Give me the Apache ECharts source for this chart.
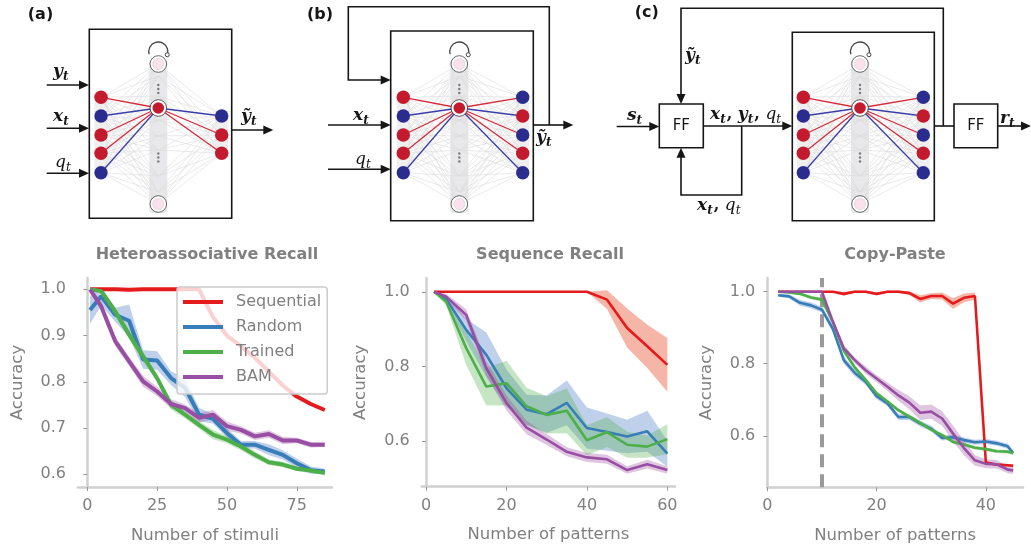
<!DOCTYPE html>
<html>
<head>
<meta charset="utf-8">
<script src="https://cdn.jsdelivr.net/npm/echarts@6/dist/echarts.min.js"></script>
<style>
  html, body { margin: 0; padding: 0; background: #fff; }
  #chart { width: 1031px; height: 550px; }
</style>
</head>
<body>
<div id="chart"></div>
<script>
// ---- data ----
const seriesNames = ['Sequential', 'Random', 'Trained', 'BAM'];

// Heteroassociative Recall
const hetX = [1, 5, 10, 15, 20, 25, 30, 35, 40, 45, 50, 55, 60, 65, 70, 75, 80, 85];
const hetSeq = [1.0, 1.0, 1.0, 0.999, 1.0, 1.0, 1.0, 1.0, 1.0, 0.94, 0.90, 0.877, 0.852, 0.822, 0.792, 0.768, 0.752, 0.739];
const hetSeqErr = [0, 0, 0, 0.001, 0, 0, 0, 0, 0, 0.004, 0.004, 0.004, 0.004, 0.004, 0.004, 0.003, 0.003, 0.003];
const hetRandom = [0.955, 0.985, 0.945, 0.932, 0.848, 0.846, 0.808, 0.787, 0.729, 0.72, 0.689, 0.664, 0.664, 0.653, 0.642, 0.624, 0.609, 0.606];
const hetRandomErr = [0.03, 0.02, 0.015, 0.035, 0.02, 0.02, 0.015, 0.02, 0.015, 0.01, 0.01, 0.008, 0.008, 0.012, 0.01, 0.01, 0.008, 0.006];
const hetTrained = [1.0, 0.996, 0.952, 0.902, 0.855, 0.808, 0.75, 0.729, 0.707, 0.686, 0.675, 0.66, 0.642, 0.626, 0.621, 0.612, 0.608, 0.603];
const hetTrainedErr = [0.003, 0.005, 0.01, 0.01, 0.01, 0.008, 0.01, 0.008, 0.008, 0.01, 0.008, 0.008, 0.008, 0.006, 0.006, 0.005, 0.005, 0.005];
const hetBAM = [1.0, 0.963, 0.888, 0.844, 0.801, 0.779, 0.752, 0.743, 0.722, 0.729, 0.704, 0.696, 0.682, 0.687, 0.673, 0.673, 0.664, 0.664];
const hetBAMErr = [0.003, 0.01, 0.01, 0.01, 0.012, 0.01, 0.01, 0.008, 0.01, 0.01, 0.01, 0.008, 0.008, 0.008, 0.008, 0.006, 0.006, 0.005];

// Sequence Recall
const seqX = [2, 5, 10, 15, 20, 25, 30, 35, 40, 45, 50, 55, 60];
const seqSeq = [1, 1, 1, 1, 1, 1, 1, 1, 1, 0.979, 0.903, 0.854, 0.804];
const seqSeqErr = [0, 0, 0, 0, 0, 0, 0, 0, 0, 0.025, 0.052, 0.058, 0.072];
const seqRandom = [1.0, 0.981, 0.898, 0.831, 0.742, 0.684, 0.672, 0.702, 0.635, 0.624, 0.612, 0.626, 0.566];
const seqRandomErr = [0.002, 0.01, 0.03, 0.06, 0.05, 0.04, 0.05, 0.06, 0.055, 0.05, 0.045, 0.055, 0.035];
const seqTrained = [1.0, 0.974, 0.849, 0.746, 0.755, 0.693, 0.67, 0.681, 0.602, 0.624, 0.59, 0.585, 0.605];
const seqTrainedErr = [0.002, 0.01, 0.045, 0.05, 0.06, 0.05, 0.05, 0.06, 0.04, 0.04, 0.035, 0.03, 0.04];
const seqBAM = [1.0, 0.987, 0.938, 0.795, 0.702, 0.636, 0.604, 0.571, 0.556, 0.551, 0.522, 0.538, 0.522];
const seqBAMErr = [0.002, 0.008, 0.015, 0.02, 0.02, 0.018, 0.015, 0.012, 0.012, 0.012, 0.01, 0.012, 0.01];

// Copy-Paste
const cpX = [2, 4, 6, 8, 10, 12, 14, 16, 18, 20, 22, 24, 26, 28, 30, 32, 34, 36, 38, 40, 42, 44, 45];
const cpSeq = [1, 1, 1, 1, 1, 1, 0.994, 1, 1, 0.994, 1, 1, 0.996, 0.98, 0.988, 0.988, 0.967, 0.983, 0.988, 0.526, 0.52, 0.518, 0.517];
const cpSeqErr = [0, 0, 0, 0, 0, 0.002, 0.005, 0.003, 0.003, 0.004, 0.003, 0.003, 0.005, 0.01, 0.008, 0.01, 0.015, 0.012, 0.01, 0.004, 0.004, 0.004, 0.004];
const cpRandom = [0.99, 0.987, 0.969, 0.962, 0.95, 0.897, 0.81, 0.775, 0.75, 0.71, 0.69, 0.652, 0.652, 0.634, 0.62, 0.594, 0.596, 0.588, 0.582, 0.584, 0.579, 0.571, 0.552];
const cpRandomErr = [0.004, 0.005, 0.008, 0.008, 0.008, 0.01, 0.01, 0.01, 0.008, 0.008, 0.008, 0.008, 0.008, 0.008, 0.008, 0.007, 0.007, 0.007, 0.007, 0.007, 0.007, 0.007, 0.007];
const cpTrained = [1.0, 0.998, 0.994, 0.984, 0.978, 0.915, 0.836, 0.79, 0.755, 0.718, 0.695, 0.671, 0.653, 0.636, 0.617, 0.602, 0.583, 0.576, 0.567, 0.563, 0.557, 0.556, 0.552];
const cpTrainedErr = [0.002, 0.003, 0.004, 0.005, 0.005, 0.006, 0.006, 0.006, 0.006, 0.006, 0.006, 0.005, 0.005, 0.005, 0.005, 0.005, 0.005, 0.005, 0.005, 0.005, 0.005, 0.005, 0.005];
const cpBAM = [1, 1, 1, 1, 1, 0.917, 0.843, 0.81, 0.782, 0.759, 0.736, 0.712, 0.692, 0.664, 0.667, 0.648, 0.606, 0.566, 0.532, 0.522, 0.521, 0.506, 0.504];
const cpBAMErr = [0, 0, 0, 0, 0, 0.008, 0.008, 0.008, 0.01, 0.01, 0.012, 0.015, 0.018, 0.02, 0.02, 0.02, 0.022, 0.02, 0.015, 0.012, 0.012, 0.01, 0.01];
const cpMarker = 10;

// tick labels
const hetXTicks = [0, 25, 50, 75];
const hetYTicks = [0.6, 0.7, 0.8, 0.9, 1.0];
const seqXTicks = [0, 20, 40, 60];
const seqYTicks = [0.6, 0.8, 1.0];
const cpXTicks = [0, 20, 40];
const cpYTicks = [0.6, 0.8, 1.0];

const titles = ['Heteroassociative Recall', 'Sequence Recall', 'Copy-Paste'];
const xNames = ['Number of stimuli', 'Number of patterns', 'Number of patterns'];

// ---- styling ----
const COLORS = ['#e41a1c', '#377eb8', '#4daf4a', '#984ea3'];
const BAND_COLORS = ['rgba(238,110,80,0.5)', 'rgba(55,110,190,0.32)', 'rgba(77,175,74,0.32)', 'rgba(152,78,163,0.32)'];
const FONT = 'DejaVu Sans';
const GRAY = '#808080';
const SPINE = '#d0d0d0';

const panels = [
  { x: hetX, ys: [hetSeq, hetRandom, hetTrained, hetBAM], errs: [hetSeqErr, hetRandomErr, hetTrainedErr, hetBAMErr],
    grid: { left: 78, top: 278, width: 254, height: 209 }, xr: [-3.3, 87.6], yr: [0.5725, 1.0244],
    xt: hetXTicks, yt: hetYTicks, lw: 4, titleX: 207 },
  { x: seqX, ys: [seqSeq, seqRandom, seqTrained, seqBAM], errs: [seqSeqErr, seqRandomErr, seqTrainedErr, seqBAMErr],
    grid: { left: 421.7, top: 278, width: 253.3, height: 208.7 }, xr: [-1.07, 61.9], yr: [0.4775, 1.037],
    xt: seqXTicks, yt: seqYTicks, lw: 2.6, titleX: 550 },
  { x: cpX, ys: [cpSeq, cpRandom, cpTrained, cpBAM], errs: [cpSeqErr, cpRandomErr, cpTrainedErr, cpBAMErr],
    grid: { left: 767.3, top: 278, width: 255.7, height: 209.3 }, xr: [0, 46.8], yr: [0.457, 1.038],
    xt: cpXTicks, yt: cpYTicks, lw: 2.6, titleX: 895 }
];

function band(gi, xs, ys, err, fill) {
  return {
    type: 'custom', xAxisIndex: gi, yAxisIndex: gi, silent: true, z: 1, animation: false,
    data: xs.map((x, i) => [x, ys[i] - err[i], ys[i] + err[i]]),
    renderItem: (params, api) => {
      if (params.dataIndex !== 0) return null;
      const pts = [];
      xs.forEach((x, i) => pts.push(api.coord([x, ys[i] + err[i]])));
      for (let i = xs.length - 1; i >= 0; i--) pts.push(api.coord([xs[i], ys[i] - err[i]]));
      return { type: 'polygon', shape: { points: pts }, style: { fill } };
    }
  };
}

const grids = [], xAxes = [], yAxes = [], series = [];
panels.forEach((p, gi) => {
  grids.push(Object.assign({ outerBoundsMode: 'none', containLabel: false }, p.grid));
  const axisCommon = {
    axisLine: { show: true, lineStyle: { color: SPINE, width: 2.5 } },
    axisTick: { show: true, length: 4, lineStyle: { color: '#9a9a9a', width: 1 } },
    splitLine: { show: false },
    nameTextStyle: { fontFamily: FONT, fontSize: 16.5, color: GRAY },
  };
  xAxes.push(Object.assign({}, axisCommon, {
    type: 'value', gridIndex: gi, min: p.xr[0], max: p.xr[1],
    name: xNames[gi], nameLocation: 'middle', nameGap: 40,
    axisTick: Object.assign({}, axisCommon.axisTick, { customValues: p.xt }),
    axisLabel: { customValues: p.xt, margin: 11, fontFamily: FONT, fontSize: 16, color: GRAY, formatter: v => String(v) }
  }));
  yAxes.push(Object.assign({}, axisCommon, {
    type: 'value', gridIndex: gi, min: p.yr[0], max: p.yr[1],
    name: 'Accuracy', nameLocation: 'middle', nameGap: 52,
    axisTick: Object.assign({}, axisCommon.axisTick, { customValues: p.yt }),
    axisLabel: { customValues: p.yt, margin: 12, fontFamily: FONT, fontSize: 16, color: GRAY, formatter: v => v.toFixed(1) }
  }));
  p.ys.forEach((ys, si) => series.push(band(gi, p.x, ys, p.errs[si], BAND_COLORS[si])));
  p.ys.forEach((ys, si) => {
    const s = {
      type: 'line', name: seriesNames[si], xAxisIndex: gi, yAxisIndex: gi,
      data: p.x.map((x, i) => [x, ys[i]]),
      showSymbol: false, symbol: 'none', z: 3, animation: false,
      lineStyle: { width: p.lw, color: COLORS[si] }, itemStyle: { color: COLORS[si] }
    };
    if (gi === 2 && si === 0) {
      s.markLine = {
        silent: true, symbol: 'none', animation: false, z: 2,
        label: { show: false },
        lineStyle: { type: [13, 7], color: '#9a9a9a', width: 4 },
        data: [{ xAxis: cpMarker }]
      };
    }
    series.push(s);
  });
});

// ---- network diagrams (graphic) ----
const BLK = '#161616';
const N_RED = '#c41a2e', N_BLUE = '#2b2d8e', L_RED = '#d42a3a', L_BLUE = '#3a3fa8';
const leftYs = [97.3, 116, 135, 153.3, 172.7];
const fanYs = [64, 76, 96, 120, 136, 150, 176, 192, 204];
const diag = [];

function ln(x1, y1, x2, y2, color, w) {
  diag.push({ type: 'line', silent: true, shape: { x1, y1, x2, y2 }, style: { stroke: color, lineWidth: w } });
}
function circ(cx, cy, r, fill, stroke, w) {
  diag.push({ type: 'circle', silent: true, shape: { cx, cy, r }, style: { fill, stroke: stroke || null, lineWidth: w || 0 } });
}
function box(x1, y1, x2, y2, w) {
  diag.push({ type: 'rect', silent: true, shape: { x: x1, y: y1, width: x2 - x1, height: y2 - y1 }, style: { fill: '#fff', stroke: BLK, lineWidth: w || 1.6 } });
}
function arrow(pts) {
  const n = pts.length;
  const [x1, y1] = pts[n - 2], [x2, y2] = pts[n - 1];
  const a = Math.atan2(y2 - y1, x2 - x1), L = 10, W = 4.5;
  const bx = x2 - L * Math.cos(a), by = y2 - L * Math.sin(a);
  const shaft = pts.slice(0, n - 1).concat([[bx + Math.cos(a), by + Math.sin(a)]]);
  diag.push({ type: 'polyline', silent: true, shape: { points: shaft }, style: { stroke: BLK, lineWidth: 1.6, fill: null } });
  diag.push({ type: 'polygon', silent: true, shape: { points: [[x2, y2], [bx - W * Math.sin(a), by + W * Math.cos(a)], [bx + W * Math.sin(a), by - W * Math.cos(a)]] }, style: { fill: BLK } });
}
function txt(x, y, s, font, align, color) {
  diag.push({ type: 'text', silent: true, style: { x, y, text: s, font, fill: color || BLK, textAlign: align || 'left', align: align || 'left', textVerticalAlign: 'middle', verticalAlign: 'middle' } });
}
const mctx = document.createElement('canvas').getContext('2d');
const MATH = {
  b: 'italic bold 17px "DejaVu Serif"', i: 'italic 17px "DejaVu Serif"',
  s: 'italic bold 12px "DejaVu Serif"', S: 'italic 12px "DejaVu Serif"', p: 'bold 16px "DejaVu Serif"'
};
function math(x, y, parts) {
  let cx = x;
  parts.forEach(([s, k]) => {
    const dy = (k === 's' || k === 'S') ? 5 : 0;
    txt(cx, y + dy, s, MATH[k]);
    mctx.font = MATH[k];
    cx += mctx.measureText(s).width + (k === 's' || k === 'S' ? 1 : 0);
  });
}

function network(bx, L, H, R, leftCols, rightYs, rightCols, outCols) {
  box(bx[0], bx[1], bx[2], bx[3]);
  diag.push({ type: 'rect', silent: true, shape: { x: H - 9, y: 60, width: 18, height: 153, r: 3 }, style: { fill: '#e8e8ea' } });
  diag.push({ type: 'rect', silent: true, shape: { x: L - 6.5, y: leftYs[0] - 6, width: 13, height: leftYs[4] - leftYs[0] + 12, r: 5 }, style: { fill: '#efefef' } });
  diag.push({ type: 'rect', silent: true, shape: { x: R - 6.5, y: rightYs[0] - 6, width: 13, height: rightYs[rightYs.length - 1] - rightYs[0] + 12, r: 5 }, style: { fill: '#efefef' } });
  leftYs.forEach(ly => fanYs.forEach(hy => ln(L, ly, H, hy, '#dcdcdc', 0.6)));
  rightYs.forEach(ry => fanYs.forEach(hy => ln(H, hy, R, ry, '#dcdcdc', 0.6)));
  leftCols.forEach((c, i) => ln(L, leftYs[i], H, 108, c === 'r' ? L_RED : L_BLUE, 1.3));
  outCols.forEach((c, i) => ln(H, 108, R, rightYs[i], c === 'r' ? L_RED : L_BLUE, 1.3));
  // self loop
  diag.push({ type: 'arc', silent: true, shape: { cx: H, cy: 51.5, r: 9.5, startAngle: 2.85, endAngle: 2 * Math.PI + 0.35, clockwise: true }, style: { stroke: '#444', lineWidth: 1.3, fill: null } });
  circ(H + 9.5 * Math.cos(0.35), 51.5 + 9.5 * Math.sin(0.35), 2, '#fff', '#444', 1);
  // hidden units
  [64, 204].forEach(hy => { circ(H, hy, 8.3, '#fff', '#555', 0.9); circ(H, hy, 5.6, '#fbe1eb', '#c8c8c8', 0.5); });
  circ(H, 108, 8.3, '#fff', '#444', 0.9); circ(H, 108, 5.8, N_RED);
  [85, 89, 93, 153.5, 157.5, 161.5].forEach(dy => circ(H, dy, 1.2, '#7a7a7a'));
  leftCols.forEach((c, i) => circ(L, leftYs[i], 6.7, c === 'r' ? N_RED : N_BLUE));
  rightCols.forEach((c, i) => circ(R, rightYs[i], 6.7, c === 'r' ? N_RED : N_BLUE));
}

// (a)
txt(40.5, 15, '(a)', 'bold 16px "DejaVu Sans"', 'center');
network([89.3, 29.3, 231.7, 218.3], 101, 158.3, 221.7, ['r', 'b', 'r', 'r', 'b'], [116, 135, 153.3], ['b', 'r', 'r'], ['b', 'r', 'r']);
arrow([[46.7, 85], [89, 85]]);
arrow([[46.7, 128.3], [89, 128.3]]);
arrow([[46.7, 173.3], [89, 173.3]]);
arrow([[231.7, 130], [273.3, 130]]);
math(53, 72, [['y', 'b'], ['t', 's']]);
math(53, 117, [['x', 'b'], ['t', 's']]);
math(55, 163, [['q', 'i'], ['t', 'S']]);
math(241, 117, [['ỹ', 'b'], ['t', 's']]);

// (b)
txt(320, 15, '(b)', 'bold 16px "DejaVu Sans"', 'center');
network([390.7, 31, 533.3, 220.7], 403.3, 459.3, 522.7, ['r', 'b', 'r', 'r', 'b'], leftYs, ['b', 'r', 'b', 'r', 'b'], ['r', 'b', 'r', 'r', 'b']);
arrow([[549.3, 125], [549.3, 6.7], [348.3, 6.7], [348.3, 80], [390.7, 80]]);
arrow([[533.3, 125], [573.3, 125]]);
arrow([[328, 125], [390.7, 125]]);
arrow([[328, 169.3], [390.7, 169.3]]);
math(353, 116, [['x', 'b'], ['t', 's']]);
math(355, 160, [['q', 'i'], ['t', 'S']]);
math(536, 138, [['ỹ', 'b'], ['t', 's']]);

// (c)
txt(646.7, 12.5, '(c)', 'bold 16px "DejaVu Sans"', 'center');
network([792.3, 32.3, 934.3, 220.7], 803.3, 860, 923.3, ['r', 'b', 'r', 'r', 'b'], leftYs, ['b', 'r', 'b', 'r', 'b'], ['r', 'b', 'r', 'r', 'b']);
arrow([[616.7, 126.5], [659.3, 126.5]]);
arrow([[703.3, 126], [792.3, 126]]);
arrow([[741.7, 126], [741.7, 195], [681, 195], [681, 147.7]]);
arrow([[943.3, 126], [943.3, 8.3], [681, 8.3], [681, 104]]);
ln(934.3, 126, 954, 126, BLK, 1.6);
arrow([[997.7, 126], [1031, 126]]);
box(659.3, 104, 703.3, 147.7);
box(954, 104, 997.7, 147.7);
txt(681.3, 126, 'FF', '15px "DejaVu Sans"', 'center');
txt(975.8, 126, 'FF', '15px "DejaVu Sans"', 'center');
math(627, 116, [['s', 'b'], ['t', 's']]);
math(710, 114.5, [['x', 'b'], ['t', 's'], [', ', 'p'], ['y', 'b'], ['t', 's'], [', ', 'p'], ['q', 'i'], ['t', 'S']]);
math(685, 56, [['ỹ', 'b'], ['t', 's']]);
math(697, 206, [['x', 'b'], ['t', 's'], [', ', 'p'], ['q', 'i'], ['t', 'S']]);
math(1000, 119, [['r', 'b'], ['t', 's']]);

// chart titles
panels.forEach((p, gi) => txt(p.titleX, 255, titles[gi], 'bold 16px "DejaVu Sans"', 'center', GRAY));

const chart = echarts.init(document.getElementById('chart'), null, { renderer: 'canvas' });
chart.setOption({
  animation: false,
  backgroundColor: '#fff',
  grid: grids,
  xAxis: xAxes,
  yAxis: yAxes,
  legend: {
    data: seriesNames,
    orient: 'vertical', left: 177, top: 287,
    icon: 'rect', itemWidth: 40, itemHeight: 4, itemGap: 9,
    padding: [7, 6, 9, 6],
    backgroundColor: 'rgba(255,255,255,0.8)', borderColor: '#cccccc', borderWidth: 1.5, borderRadius: 3,
    selectedMode: false,
    textStyle: { fontFamily: FONT, fontSize: 16, color: GRAY, lineHeight: 16, padding: [0, 0, 0, 8] }
  },
  series: series,
  graphic: { elements: diag }
});
</script>
</body>
</html>
